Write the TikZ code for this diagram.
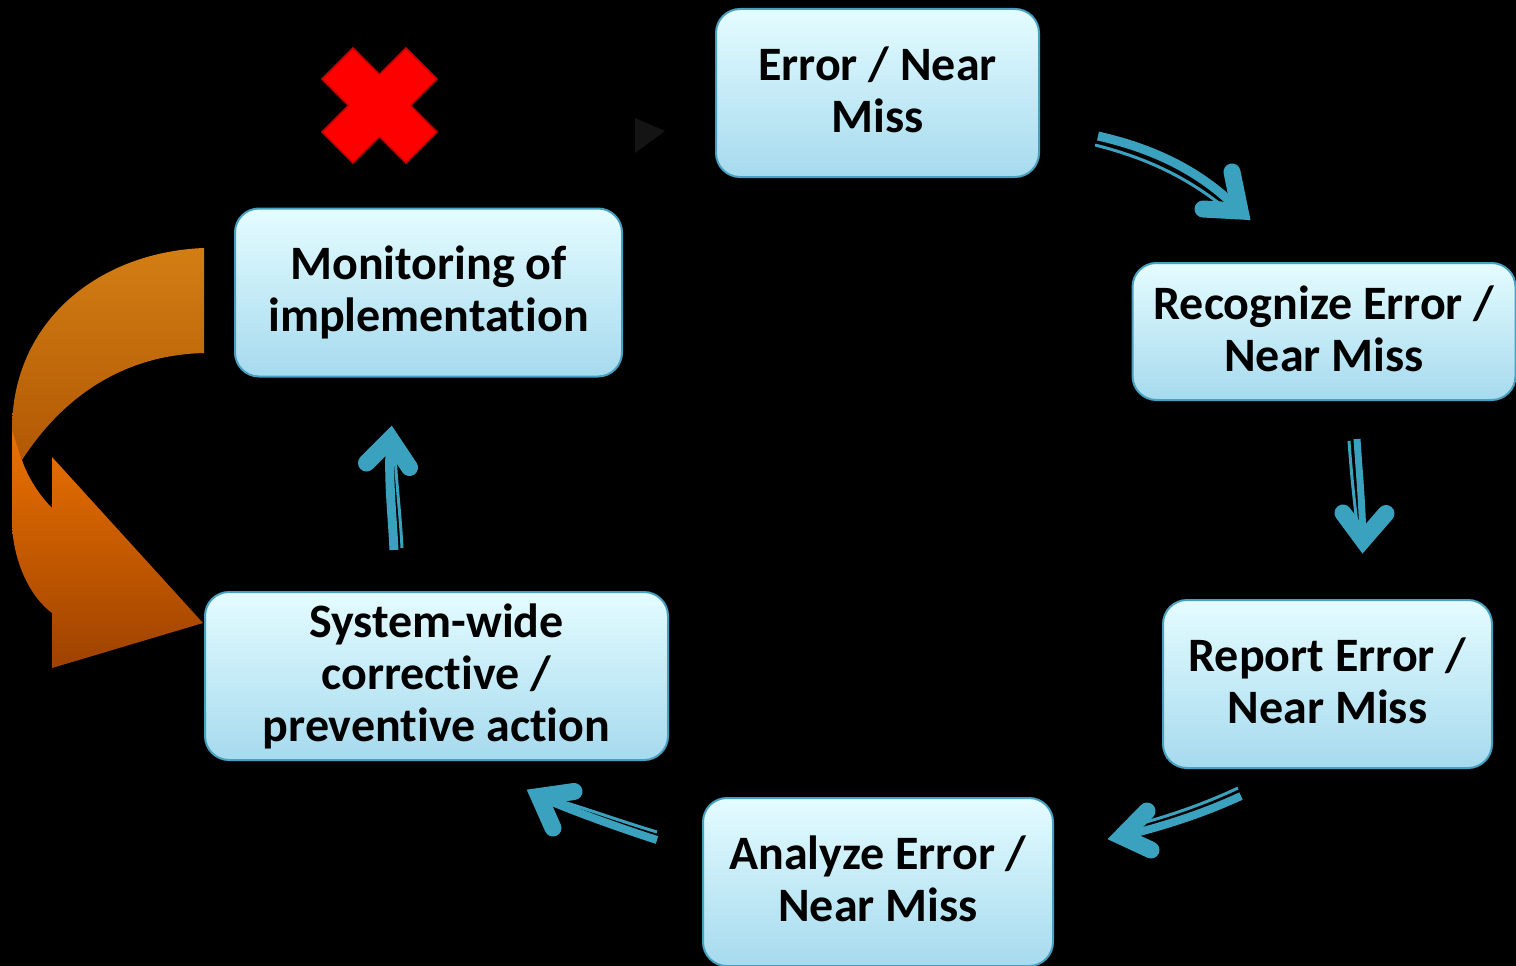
\documentclass[tikz,border=0pt]{standalone}
\usepackage{fontspec}
\setmainfont{Carlito}[Ligatures={NoCommon}]
\definecolor{boxtop}{RGB}{228,252,255}
\definecolor{boxbot}{RGB}{166,218,238}
\definecolor{boxedge}{RGB}{72,160,192}
\definecolor{teal0}{RGB}{58,162,190}
\definecolor{xred}{RGB}{255,0,0}
\definecolor{xedge}{RGB}{200,0,0}
\definecolor{orgtop}{RGB}{210,126,20}
\definecolor{orgmid}{RGB}{178,88,4}
\definecolor{orgbright}{RGB}{236,114,0}
\definecolor{orgbot}{RGB}{158,66,0}
\definecolor{ghost}{RGB}{20,20,20}
\newcommand\lowstrut{\rule[-6pt]{0pt}{6pt}}
\tikzset{
  box/.style={draw=boxedge, line width=2pt, rounded corners=24pt,
    top color=boxtop, bottom color=boxbot, minimum height=168pt,
    align=center, inner sep=0pt,
    font=\bfseries\fontsize{48}{52}\selectfont},
  thickline/.style={draw=teal0, line width=9pt},
  thinline/.style={draw=teal0, line width=3pt},
  headv/.style={draw=teal0, line width=17pt, line cap=round, line join=miter},
}
\begin{document}
\begin{tikzpicture}[x=1pt,y=-1pt]
\useasboundingbox (0,0) rectangle (1516,966);
\fill[black] (0,0) rectangle (1516,966);

% boxes
\node[box, minimum width=323pt] (err) at (877.5,93) {Error / Near\\Miss\lowstrut};
\node[box, minimum width=383pt, minimum height=137pt] (rec) at (1324,331.5) {Recognize Error /\\Near Miss\lowstrut};
\node[box, minimum width=329pt] (rep) at (1327.5,684) {Report Error /\\Near Miss\lowstrut};
\node[box, minimum width=350pt] (ana) at (878,882) {Analyze Error /\\Near Miss\lowstrut};
\node[box, minimum width=463pt] (sys) at (436.5,676) {System-wide\\corrective /\\preventive action};
\node[box, minimum width=387pt] (mon) at (428.5,292.5) {Monitoring of\\implementation};

% faint triangle
\fill[ghost] (635,118) -- (665,131) -- (635,153) -- cycle;

% red cross
\filldraw[fill=xred, draw=xedge, line width=1.5pt, line join=miter]
  (353,48) -- (379.5,74.4) -- (406,48) -- (437,79) -- (410.6,105.5) -- (437,132)
  -- (406,163) -- (379.5,136.6) -- (353,163) -- (322,132) -- (348.4,105.5) -- (322,79) -- cycle;

% orange curved arrow
\path[top color=orgbright, bottom color=orgbot]
  (12,427) -- (12,520) .. controls (12,560) and (30,597) .. (52,613)
  -- (52,668) -- (203,623) -- (52,457) -- (52,508)
  .. controls (40,496) and (28,478) .. (22,460) -- cycle;
\path[top color=orgtop, bottom color=orgmid]
  (204,248) .. controls (100,252) and (12,320) .. (12,430)
  -- (22,460) .. controls (62,398) and (122,355) .. (204,353) -- cycle;

% arrow 1: err -> rec
\coordinate (a1s) at (1098,136);
\coordinate (a1t) at (1240,211);
\draw[thickline] (a1s) .. controls (1160,150) and (1205,175) .. (a1t);
\draw[thinline] (1095,145) .. controls (1155,160) and (1195,183) .. (1230,212);
\draw[headv] (1232,172) -- (a1t) -- (1203,209);

% arrow 2: rec -> rep
\coordinate (a2s) at (1357,439);
\coordinate (a2t) at (1363,540);
\draw[line width=7pt, draw=teal0] (a2s) .. controls (1359,470) and (1362,500) .. (a2t);
\draw[thinline] (1349,441) .. controls (1351,470) and (1354,500) .. (1358,532);
\draw[headv] (1343,513) -- (a2t) -- (1386,513.5);

% arrow 3: rep -> ana
\coordinate (a3s) at (1241,796);
\coordinate (a3t) at (1122,836.5);
\draw[line width=8pt, draw=teal0] (a3s) .. controls (1200,815) and (1160,827) .. (a3t);
\draw[thinline] (1238,788) .. controls (1200,806) and (1162,818) .. (1128,827);
\draw[headv] (1147,811) -- (a3t) -- (1151,850);

% arrow 4: ana -> sys
\coordinate (a4s) at (657,840);
\coordinate (a4t) at (539,796.5);
\draw[line width=8pt, draw=teal0] (a4s) .. controls (620,828) and (575,812) .. (a4t);
\draw[thinline] (657,832) .. controls (620,821) and (585,808) .. (550,798);
\draw[headv] (574,791.5) -- (a4t) -- (553,828);

% arrow 5: sys -> mon
\coordinate (a5s) at (394,550);
\coordinate (a5t) at (390.5,439);
\draw[line width=9pt, draw=teal0] (a5s) .. controls (392,510) and (388,480) .. (a5t);
\draw[thinline] (402,548) .. controls (400,510) and (396,480) .. (395,452);
\draw[headv] (366.5,463) -- (a5t) -- (409.5,467.5);
\end{tikzpicture}
\end{document}
